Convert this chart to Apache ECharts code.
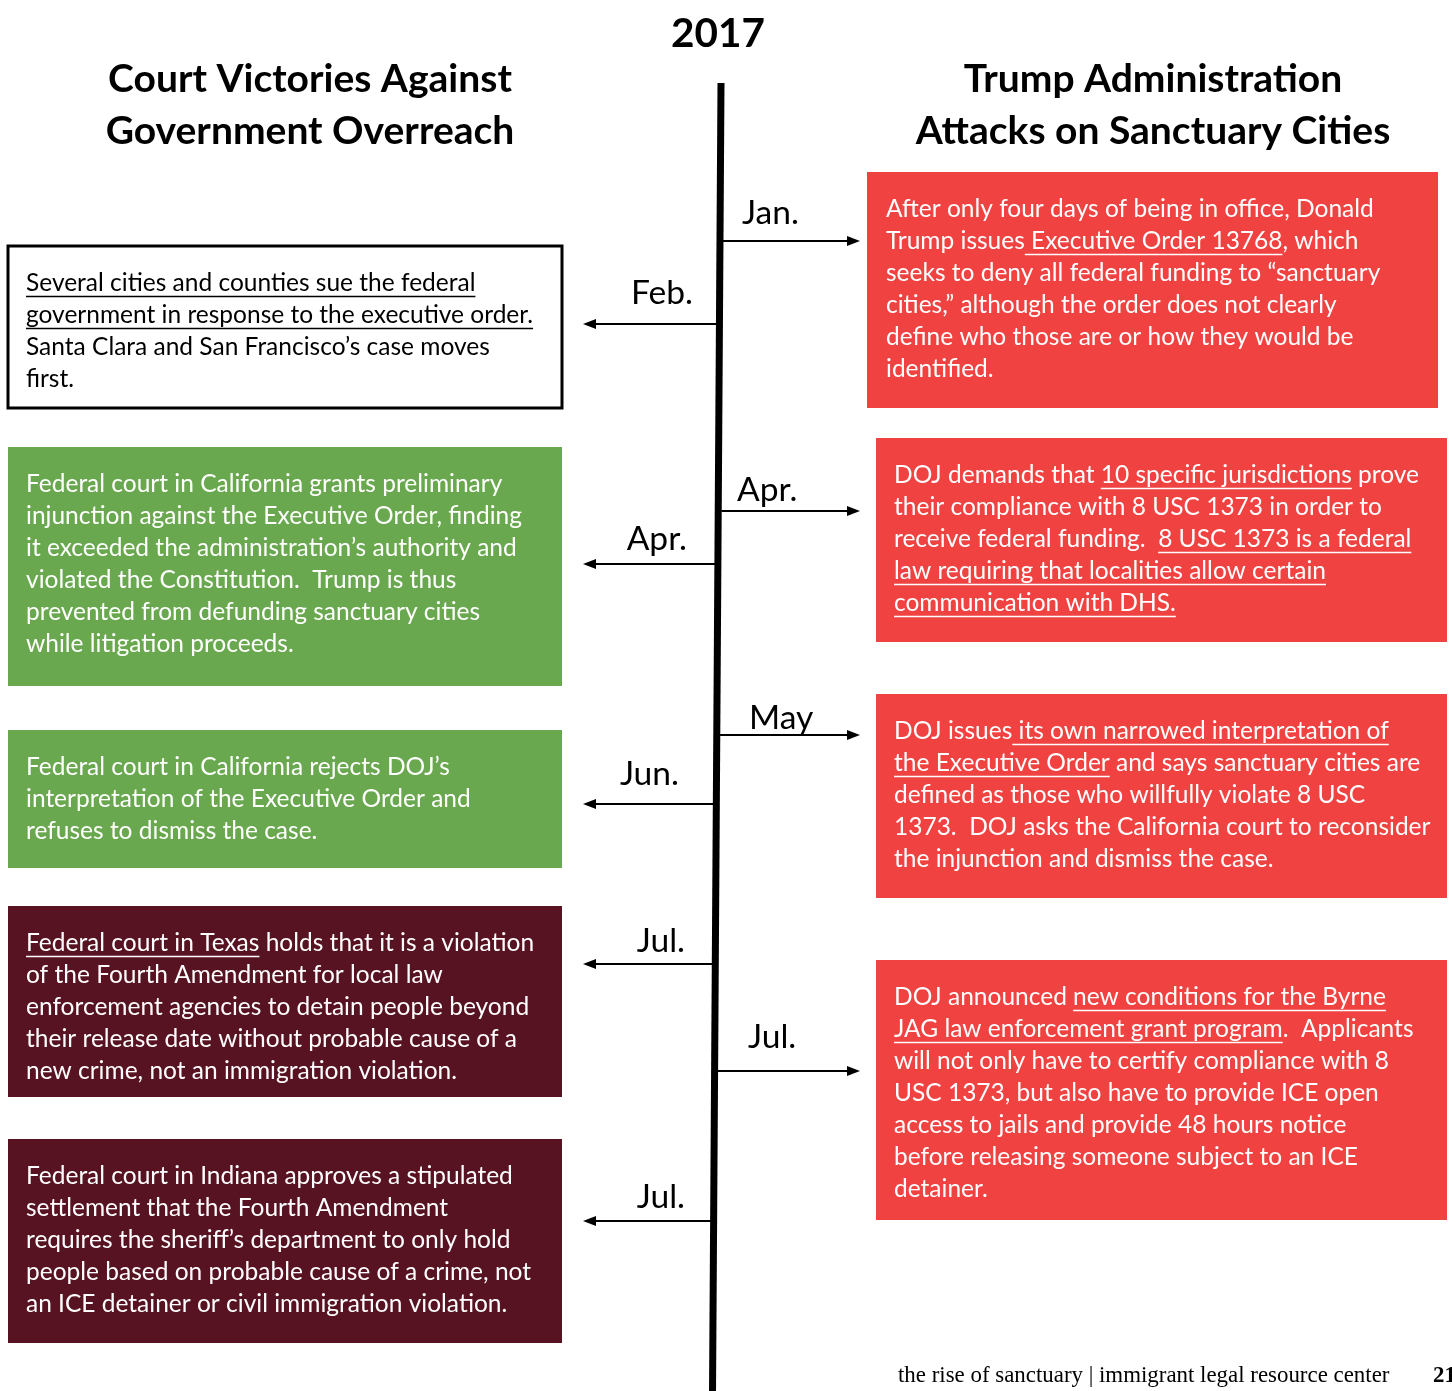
<!DOCTYPE html>
<html>
<head>
<meta charset="utf-8">
<script src="https://cdn.jsdelivr.net/npm/echarts@6/dist/echarts.min.js"></script>
<style>
html, body { margin: 0; padding: 0; background: #fff; }
#chart-dev { width: 1452px; height: 1391px; }
</style>
</head>
<body>
<div id="chart-dev"></div>
<script>
// ---- content ----
var year = '2017';
var leftTitle = ['Court Victories Against', 'Government Overreach'];
var rightTitle = ['Trump Administration', 'Attacks on Sanctuary Cities'];

// text between _ _ is underlined
var leftMonths = ['Feb.', 'Apr.', 'Jun.', 'Jul.', 'Jul.'];
var leftKinds = ['outline', 'green', 'green', 'maroon', 'maroon'];
var leftTexts = [
    ['_Several cities and counties sue the federal_',
     '_government in response to the executive order._',
     'Santa Clara and San Francisco\u2019s case moves',
     'first.'],
    ['Federal court in California grants preliminary',
     'injunction against the Executive Order, finding',
     'it exceeded the administration\u2019s authority and',
     'violated the Constitution.  Trump is thus',
     'prevented from defunding sanctuary cities',
     'while litigation proceeds.'],
    ['Federal court in California rejects DOJ\u2019s',
     'interpretation of the Executive Order and',
     'refuses to dismiss the case.'],
    ['_Federal court in Texas_ holds that it is a violation',
     'of the Fourth Amendment for local law',
     'enforcement agencies to detain people beyond',
     'their release date without probable cause of a',
     'new crime, not an immigration violation.'],
    ['Federal court in Indiana approves a stipulated',
     'settlement that the Fourth Amendment',
     'requires the sheriff\u2019s department to only hold',
     'people based on probable cause of a crime, not',
     'an ICE detainer or civil immigration violation.']
];

var rightMonths = ['Jan.', 'Apr.', 'May', 'Jul.'];
var rightTexts = [
    ['After only four days of being in office, Donald',
     'Trump issues_ Executive Order 13768_, which',
     'seeks to deny all federal funding to \u201csanctuary',
     'cities,\u201d although the order does not clearly',
     'define who those are or how they would be',
     'identified.'],
    ['DOJ demands that _10 specific jurisdictions_ prove',
     'their compliance with 8 USC 1373 in order to',
     'receive federal funding.  _8 USC 1373 is a federal_',
     '_law requiring that localities allow certain_',
     '_communication with DHS._'],
    ['DOJ issues_ its own narrowed interpretation of_',
     '_the Executive Order_ and says sanctuary cities are',
     'defined as those who willfully violate 8 USC',
     '1373.  DOJ asks the California court to reconsider',
     'the injunction and dismiss the case.'],
    ['DOJ announced _new conditions for the Byrne_',
     '_JAG law enforcement grant program_.  Applicants',
     'will not only have to certify compliance with 8',
     'USC 1373, but also have to provide ICE open',
     'access to jails and provide 48 hours notice',
     'before releasing someone subject to an ICE',
     'detainer.']
];

var footerText = 'the rise of sanctuary | immigrant legal resource center';
var pageNumber = '21';

// ---- layout ----
var leftBoxes = [
    { x: 8, y: 246, w: 554, h: 162 },
    { x: 8, y: 447, w: 554, h: 239 },
    { x: 8, y: 730, w: 554, h: 138 },
    { x: 8, y: 906, w: 554, h: 191 },
    { x: 8, y: 1139, w: 554, h: 204 }
];
var rightBoxes = [
    { x: 867, y: 172, w: 571, h: 236 },
    { x: 876, y: 438, w: 571, h: 204 },
    { x: 876, y: 694, w: 571, h: 204 },
    { x: 876, y: 960, w: 571, h: 260 }
];
var leftArrowY = [324, 564, 804, 964, 1221];
var leftLabelPos = [[693, 293], [687, 539], [679, 774], [685, 941], [685, 1197]];
var rightArrowY = [241, 511, 735, 1071];
var rightLabelPos = [[742, 213], [737, 490], [749, 718], [748, 1037]];

var colors = {
    red: '#EF4241',
    green: '#6AA84F',
    maroon: '#581322',
    outline: '#ffffff'
};

var FAMILY = 'Lato';
var ctx = document.createElement('canvas').getContext('2d');
function textWidth(s, font) {
    ctx.font = font;
    return ctx.measureText(s).width;
}
function fitSize(s, weight, family, target) {
    return 100 * target / textWidth(s, weight + ' 100px ' + family);
}

var bodySize = Math.round(fitSize('Federal court in Texas holds that it is a violation', 'normal', FAMILY, 508) * 10) / 10;
var headSize = Math.round(fitSize('Court Victories Against', 'bold', FAMILY, 404) * 10) / 10;
var yearSize = Math.round(fitSize('2017', 'bold', FAMILY, 94) * 10) / 10;
var monthSize = Math.round(fitSize('Feb.', 'normal', FAMILY, 62) * 10) / 10;
var footSize = Math.round(fitSize(footerText, 'normal', 'Liberation Serif', 492) * 10) / 10;

var bodyFont = 'normal ' + bodySize + 'px ' + FAMILY;
var elements = [];

function addText(str, x, y, font, fill, align) {
    elements.push({
        type: 'text',
        x: x, y: y,
        style: {
            text: str, font: font, fill: fill,
            align: align || 'left', verticalAlign: 'middle'
        }
    });
}

function addParagraph(lines, x, y0, fill) {
    lines.forEach(function (line, i) {
        var y = y0 + i * 32;
        var parts = line.split('_');
        var plain = parts.join('');
        addText(plain, x, y, bodyFont, fill);
        var cursor = 0;
        parts.forEach(function (p, k) {
            var w = textWidth(p, bodyFont);
            if (k % 2 === 1 && p.length) {
                var uy = Math.round(y + bodySize * 0.52) + 0.5;
                elements.push({
                    type: 'line',
                    shape: { x1: x + cursor, y1: uy, x2: x + cursor + w, y2: uy },
                    style: { stroke: fill, lineWidth: 1.6 }
                });
            }
            cursor += w;
        });
    });
}

function lineX(y) {
    return 721 - 8 * (y - 83) / 1308;
}

function addArrow(x1, x2, y) {
    var dir = x2 > x1 ? 1 : -1;
    elements.push({
        type: 'line',
        shape: { x1: x1, y1: y, x2: x2 - dir * 10, y2: y },
        style: { stroke: '#000', lineWidth: 2 }
    });
    elements.push({
        type: 'polygon',
        shape: { points: [[x2, y], [x2 - dir * 13, y - 5], [x2 - dir * 13, y + 5]] },
        style: { fill: '#000' }
    });
}

// headings
addText(year, 718, 34, 'bold ' + yearSize + 'px ' + FAMILY, '#000', 'center');
leftTitle.forEach(function (t, i) {
    addText(t, 310, 79 + i * 52, 'bold ' + headSize + 'px ' + FAMILY, '#000', 'center');
});
rightTitle.forEach(function (t, i) {
    addText(t, 1153, 79 + i * 52, 'bold ' + headSize + 'px ' + FAMILY, '#000', 'center');
});

// timeline spine
elements.push({
    type: 'line',
    shape: { x1: 721, y1: 83, x2: 712.5, y2: 1395 },
    style: { stroke: '#000', lineWidth: 7 }
});

// left events
leftTexts.forEach(function (lines, i) {
    var b = leftBoxes[i];
    var kind = leftKinds[i];
    elements.push({
        type: 'rect',
        shape: { x: b.x, y: b.y, width: b.w, height: b.h },
        style: kind === 'outline'
            ? { fill: '#fff', stroke: '#000', lineWidth: 3 }
            : { fill: colors[kind] }
    });
    addParagraph(lines, b.x + 18, b.y + 37, kind === 'outline' ? '#000' : '#fff');
    var ay = leftArrowY[i];
    addArrow(lineX(ay) - 3, 583, ay);
    addText(leftMonths[i], leftLabelPos[i][0], leftLabelPos[i][1],
        'normal ' + monthSize + 'px ' + FAMILY, '#000', 'right');
});

// right events
rightTexts.forEach(function (lines, i) {
    var b = rightBoxes[i];
    elements.push({
        type: 'rect',
        shape: { x: b.x, y: b.y, width: b.w, height: b.h },
        style: { fill: colors.red }
    });
    addParagraph(lines, b.x + 19 - (i === 0 ? 0 : 1), b.y + 37, '#fff');
    var ay = rightArrowY[i];
    addArrow(lineX(ay) + 3, 860, ay);
    addText(rightMonths[i], rightLabelPos[i][0], rightLabelPos[i][1],
        'normal ' + monthSize + 'px ' + FAMILY, '#000', 'left');
});

// footer
addText(footerText, 898, 1376, 'normal ' + footSize + 'px "Liberation Serif"', '#000', 'left');
addText(pageNumber, 1433, 1376, 'bold ' + footSize + 'px "Liberation Serif"', '#000', 'left');

var dom = document.getElementById('chart-dev');
var myChart = echarts.init(dom, null, {
    renderer: 'canvas',
    useDirtyRect: false
});

var option = {
    backgroundColor: '#ffffff',
    animation: false,
    graphic: { elements: elements }
};

if (option && typeof option === 'object') {
    myChart.setOption(option);
}

window.addEventListener('resize', myChart.resize);
</script>
</body>
</html>
